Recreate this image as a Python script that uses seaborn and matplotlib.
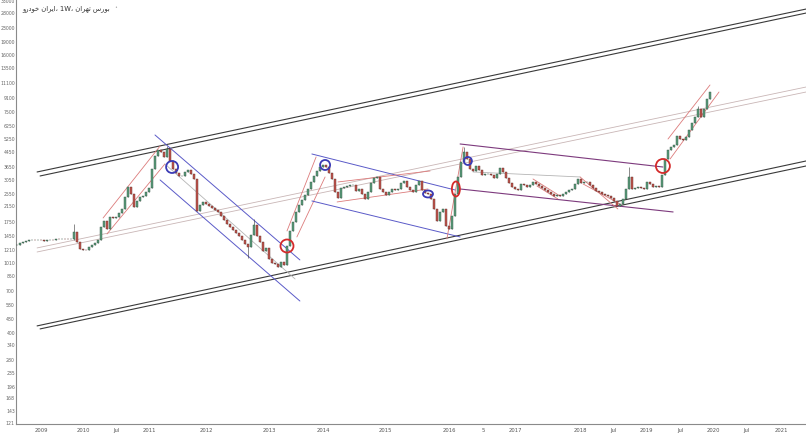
import numpy as np
import pandas as pd
import seaborn as sns
import matplotlib.pyplot as plt
from matplotlib.markers import MarkerStyle
from matplotlib.transforms import Affine2D

# weekly candles, resampled to one candle per ~2.5 weeks (closes)
closes = [
    1271, 1306, 1323, 1341, 1359, 1362, 1355, 1358, 1350, 1341, 1352, 1360, 1356, 1377, 1372, 1380, 1377, 1374, 1377,
    1511, 1323, 1206, 1190, 1185, 1238, 1271, 1306, 1359, 1615, 1748, 1573, 1844, 1820, 1844, 1945, 2050, 2404, 2746,
    2502, 2105, 2280, 2404, 2436, 2569, 2709, 3486, 4142, 4486, 4368, 4088, 4546, 3876, 3486, 3306, 3177, 3177, 3350,
    3440, 3262, 3053, 1996, 2162, 2250, 2191, 2133, 2077, 2023, 1970, 1868, 1772, 1680, 1615, 1551, 1491, 1432, 1359,
    1288, 1238, 1452, 1660, 1432, 1323, 1174, 1222, 1056, 1001, 988, 950, 1015, 975, 1254, 1531, 1725, 1970, 2162,
    2310, 2469, 2673, 2934, 3177, 3395, 3579, 3676, 3579, 3306, 3053, 2569, 2372, 2709, 2746, 2782, 2819, 2819, 2603,
    2673, 2502, 2341, 2569, 2895, 3094, 3135, 2673, 2569, 2469, 2569, 2673, 2638, 2673, 2895, 2973, 2746, 2638, 2569,
    2819, 2973, 2638, 2535, 2502, 2341, 2050, 1748, 1970, 2050, 1640, 1573, 1868, 2502, 3135, 3824, 4368, 3981, 3486,
    3395, 3627, 3440, 3219, 3250, 3262, 3219, 3094, 3262, 3532, 3350, 3094, 2895, 2746, 2673, 2638, 2857, 2830, 2746,
    2819, 2934, 2857, 2782, 2709, 2638, 2569, 2502, 2436, 2460, 2436, 2502, 2569, 2638, 2673, 2857, 3053, 2895, 2920,
    2934, 2819, 2709, 2603, 2569, 2502, 2469, 2436, 2372, 2280, 2133, 2191, 2341, 2673, 3135, 2673, 2700, 2746, 2709,
    2673, 2934, 2857, 2746, 2782, 2760, 3219, 3981, 4486, 4668, 4790, 5401, 5190, 5100, 5330, 5850, 6420, 6950, 7728,
    6950, 7728, 8826, 9685,
]
# a few long wicks that stand out
wick_bar = [19, 50, 77, 79, 149, 204, 227]
wick_low = [1359, 4300, 1070, 1452, 3981, 2673, 6950]
wick_high = [1680, 4730, 1238, 1796, 4668, 3579, 8041]

y_ticks = [33000, 28000, 23000, 19000, 16000, 13500, 11100, 9100, 7500, 6250, 5250, 4450, 3650, 3050, 2550, 2150,
           1750, 1450, 1210, 1010, 850, 700, 580, 480, 400, 340, 280, 235, 196, 168, 143, 121]
x_labels = ["2009", "2010", "Jul", "2011", "2012", "2013", "2014", "2015", "2016", "5", "2017", "2018", "Jul",
            "2019", "Jul", "2020", "Jul", "2021"]
x_label_bars = [8.3, 22, 33.3, 44.3, 63, 84, 102, 122.7, 144, 155.3, 166.3, 187.7, 198.7, 209.7, 221, 232, 243.3, 254.7]

# drawn trend lines: (bar0, price0, bar1, price1, kind)
trend_lines = [
    (6.7, 3350, 263, 29137, "black"), (7.7, 3177, 263, 27630, "black"),
    (6.7, 434, 263, 3876, "black"), (7.7, 417, 263, 3627, "black"),
    (6.7, 1222, 263, 10349, "faint"), (6.7, 1158, 263, 9685, "faint"),
    (28.7, 1819, 47.7, 4729, "red"), (30, 1471, 49.3, 3725, "red"),
    (46, 5475, 94.3, 1042, "blue"), (47.7, 3013, 94.3, 604, "blue"), (49.3, 3725, 92.7, 809, "grey"),
    (90, 1531, 99.7, 4088, "red"), (93.3, 1414, 102.7, 3135, "red"),
    (98.3, 4254, 146, 2638, "blue"), (98.3, 2280, 147.7, 1414, "blue"),
    (107, 2934, 137.7, 3395, "red"), (106.7, 2250, 137, 2673, "red"),
    (143.3, 1377, 148.7, 4668, "red"),
    (147.7, 4858, 215.3, 3579, "purple"), (147.7, 2673, 218.7, 1970, "purple"),
    (152, 3350, 187.7, 3135, "grey"),
    (172, 3053, 181, 2436, "red"), (173.3, 2782, 180.3, 2341, "red"),
    (187.7, 3135, 200.3, 2050, "red"), (188.7, 2857, 201, 2191, "red"),
    (217, 5190, 231, 10632, "red"), (217.7, 3981, 234, 9685, "red"),
]
# highlight circles: (bar, price, colour, width px, height px)
circles = [
    (51.7, 3579, "#3b3bb5", 12, 12), (90, 1254, "#d42a2a", 13, 13), (102.7, 3676, "#3b3bb5", 10, 10),
    (137, 2502, "#3b3bb5", 10, 7), (146.3, 2673, "#d42a2a", 8, 15), (150.3, 3876, "#3b3bb5", 8, 8),
    (215.3, 3627, "#d42a2a", 14, 14),
]

title = ("\uFEED\uFEAD\uFEA9\uFEEE\uFEA7 \uFEE5\uFE8D\uFEAE\uFEF3\uFE8D\u060C 1W\u060C "
         "\uFEE5\uFE8D\uFEAE\uFEEC\uFE97 \uFEB1\uFEAD\uFEEE\uFE91")

sns.set_theme(style="white")
plt.rcParams["font.family"] = ["DejaVu Sans"]

fig = plt.figure(figsize=(8.06, 4.39), dpi=100)
ax = fig.add_axes([16 / 806, 14 / 439, 790 / 806, 425 / 439])

df = pd.DataFrame({"close": closes})
df["bar"] = np.arange(len(df))
df["open"] = df["close"].shift(1).fillna(df["close"].iloc[0])
df["low"] = df[["open", "close"]].min(axis=1)
df["high"] = df[["open", "close"]].max(axis=1)
for b, lo, hi in zip(wick_bar, wick_low, wick_high):
    df.loc[b, "low"] = min(df.loc[b, "low"], lo)
    df.loc[b, "high"] = max(df.loc[b, "high"], hi)
up = df["close"] >= df["open"]

ax.vlines(df["bar"], df["low"], df["high"], color="#333333", lw=0.4, zorder=3)
body_bottom = df[["open", "close"]].min(axis=1)
body_height = (df["close"] - df["open"]).abs()
ax.bar(df["bar"][up], body_height[up], bottom=body_bottom[up], width=0.55,
       color="#5b9e7c", edgecolor="#34503f", linewidth=0.3, zorder=4)
ax.bar(df["bar"][~up], body_height[~up], bottom=body_bottom[~up], width=0.55,
       color="#c4574f", edgecolor="#5a2a26", linewidth=0.3, zorder=4)

styles = {
    "black": dict(color="#3a3a3a", lw=0.8, ls="-"),
    "faint": dict(color="#c9b6b6", lw=0.6, ls="-"),
    "red": dict(color="#dc7b7b", lw=0.6, ls="-"),
    "blue": dict(color="#5a5ac8", lw=0.7, ls="-"),
    "grey": dict(color="#b5b5b5", lw=0.6, ls="-"),
    "purple": dict(color="#7d3a7d", lw=0.8, ls="-"),
}
for b0, p0, b1, p1, kind in trend_lines:
    seg = pd.DataFrame({"bar": [b0, b1], "price": [p0, p1]})
    st = styles[kind]
    sns.lineplot(data=seg, x="bar", y="price", ax=ax, color=st["color"], lw=st["lw"],
                 linestyle=st["ls"], zorder=2, legend=False)

for b, p, col, w, h in circles:
    d = min(w, h)
    mk = MarkerStyle("o", transform=Affine2D().scale(w / d, h / d))
    ax.scatter([b], [p], s=(d * 0.72) ** 2, marker=mk, facecolors="none",
               edgecolors=col, linewidths=1.3, zorder=6)

ax.set_yscale("log")
ax.set_ylim(118, 33300)
ax.set_xlim(-0.33, 263)
ax.set_yticks(y_ticks)
ax.set_yticklabels([str(v) for v in y_ticks])
ax.yaxis.set_minor_locator(plt.NullLocator())
ax.set_xticks(x_label_bars)
ax.set_xticklabels(x_labels)
ax.tick_params(axis="y", length=0, labelsize=3.3, colors="#666666", pad=0.8)
ax.tick_params(axis="x", length=0, labelsize=3.8, colors="#555555", pad=2)
ax.set_xlabel("")
ax.set_ylabel("")
for side in ["top", "right"]:
    ax.spines[side].set_visible(False)
for side in ["left", "bottom"]:
    ax.spines[side].set_color("#8a8a8a")
    ax.spines[side].set_linewidth(0.8)

fig.text(22 / 806, 1 - 9 / 439, title, fontsize=4.9, color="#333333", ha="left", va="center")
fig.text(114 / 806, 1 - 8 / 439, "\u2022", fontsize=3.5, color="#aaaaaa", ha="left", va="center")

fig.savefig("out.png", dpi=100)
